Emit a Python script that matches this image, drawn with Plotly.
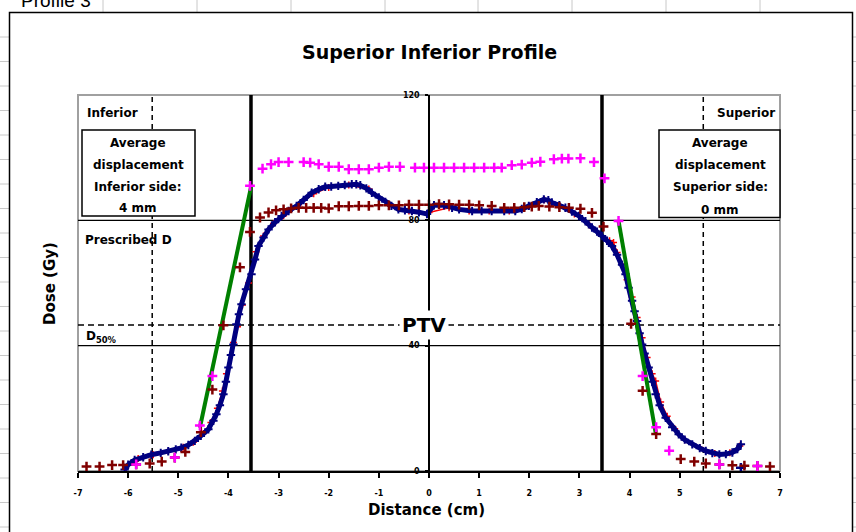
import plotly.graph_objects as go

# ---------------- data ----------------
title = "Superior Inferior Profile"
x_title = "Distance (cm)"
y_title = "Dose (Gy)"
x_ticks = list(range(-7, 8))
y_ticks = [0, 40, 80, 120]

# measured profile (navy)
blue_x = [-6.07, -6.0, -5.87, -5.7, -5.54, -5.35, -5.2, -5.05, -4.94, -4.8, -4.67, -4.55, -4.4,
          -4.3, -4.24, -4.17, -4.1, -4.05, -4.0, -3.95, -3.9, -3.84, -3.79, -3.74, -3.65, -3.54,
          -3.47, -3.4, -3.3, -3.2, -3.07, -2.94, -2.8, -2.64, -2.5, -2.34, -2.2, -2.07, -1.95,
          -1.81, -1.68, -1.54, -1.45, -1.37, -1.25, -1.14, -1.0, -0.87, -0.75, -0.61, -0.48,
          -0.34, -0.2, -0.04, 0.1, 0.3, 0.46, 0.6, 0.86, 1.05, 1.25, 1.5, 1.72, 1.85, 1.99,
          2.15, 2.29, 2.38, 2.45, 2.6, 2.72, 2.85, 2.99, 3.12, 3.25, 3.35, 3.45, 3.55, 3.65,
          3.75, 3.85, 3.92, 3.98, 4.05, 4.1, 4.15, 4.2, 4.25, 4.3, 4.38, 4.45, 4.52, 4.6, 4.72,
          4.85, 4.98, 5.1, 5.25, 5.4, 5.52, 5.65, 5.79, 5.92, 6.05, 6.15, 6.22]
blue_y = [0.5, 2.0, 3.5, 4.4, 5.2, 5.8, 6.3, 6.9, 7.4, 8.3, 9.6, 11.2, 13.3,
          16.0, 18.1, 21.0, 24.5, 28.5, 33.0, 37.0, 40.4, 46.8, 50.0, 53.2, 58.0, 62.8,
          67.5, 71.8, 74.5, 77.1, 79.4, 81.4, 83.0, 84.6, 86.5, 88.8, 89.9, 90.7, 90.8,
          91.0, 91.3, 91.5, 91.5, 91.2, 90.2, 88.8, 87.3, 85.9, 84.6, 83.5, 83.2,
          83.0, 82.6, 82.0, 84.8, 84.8, 84.0, 83.5, 83.0, 83.0, 83.0, 83.0, 83.0, 83.6, 84.6,
          85.8, 86.7, 86.4, 85.7, 84.8, 84.0, 82.8, 81.4, 79.7, 77.7, 76.4, 75.0, 73.5, 71.8,
          69.0, 65.8, 62.8, 58.5, 54.3, 51.0, 47.9, 44.0, 40.4, 37.5, 33.0, 28.5, 24.5, 21.0, 17.0,
          14.0, 11.7, 10.0, 8.5, 7.3, 6.4, 5.7, 5.3, 5.4, 5.9, 7.0, 8.5]
blue_tail_x = [6.22]
blue_tail_y = [1.0]

# calculated profile (red, mostly hidden under the measured one)
red_x = [-6.05, -5.8, -5.5, -5.2, -4.9, -4.7, -4.5, -4.35, -4.22, -4.12, -4.04, -3.96, -3.9,
         -3.82, -3.72, -3.6, -3.45, -3.3, -3.1, -2.9, -2.6, -2.3, -2.0, -1.6, -1.2, -0.8, -0.4,
         0.0, 0.4, 0.8, 1.2, 1.6, 2.0, 2.3, 2.6, 2.9, 3.2, 3.45, 3.6, 3.68, 3.75, 3.85, 3.95,
         4.05, 4.15, 4.25, 4.35, 4.45, 4.52, 4.62, 4.75, 4.9, 5.1, 5.4, 5.7, 6.0, 6.2]
red_y = [1.0, 4.0, 5.2, 6.3, 7.6, 9.2, 12.0, 15.5, 20.0, 25.5, 31.0, 37.0, 41.0,
         46.0, 53.0, 60.0, 70.0, 75.0, 79.0, 81.5, 85.0, 88.5, 90.5, 91.3, 90.0, 85.0, 83.0,
         82.5, 84.0, 83.0, 83.0, 83.0, 84.6, 86.6, 84.8, 82.0, 78.5, 75.0, 73.5, 72.9, 69.7, 66.0, 61.0,
         55.5, 49.0, 42.5, 36.2, 31.0, 28.7, 22.0, 17.5, 13.5, 10.0, 7.5, 5.6, 5.8, 8.0]

# dark red crosses
maroon_x = [-6.83, -6.57, -6.32, -6.1, -5.84, -5.57, -5.33, -5.07, -4.86, -4.55, -4.32, -4.1,
            -3.77, -3.57, -3.37, -3.2, -3.05, -2.9, -2.75, -2.6, -2.45, -2.3, -2.15, -2.0, -1.8,
            -1.6, -1.4, -1.2, -1.0, -0.8, -0.6, -0.4, -0.2, 0.0, 0.2, 0.4, 0.6, 0.8, 1.0, 1.25,
            1.5, 1.7, 1.9, 2.05, 2.19, 2.4, 2.6, 2.79, 3.02, 3.25, 3.48, 4.03, 4.26, 4.53,
            5.02, 5.29, 5.52, 5.79, 6.05, 6.29, 6.55, 6.8]
maroon_y = [1.4, 1.4, 1.9, 1.9, 2.1, 2.4, 3.0, 4.3, 6.1, 12.4, 26.0, 46.5,
            65.0, 76.3, 80.9, 82.5, 83.2, 83.5, 83.8, 84.0, 84.0, 84.0, 84.0, 83.8, 84.5,
            84.5, 84.6, 84.6, 84.8, 84.8, 84.8, 85.0, 85.0, 85.0, 85.2, 85.1, 85.0, 85.0, 84.8, 84.6,
            84.0, 84.0, 84.2, 84.4, 84.6, 84.4, 84.2, 84.0, 83.7, 82.4, 78.0, 47.0, 25.6, 11.8,
            3.8, 3.0, 2.4, 2.1, 1.8, 1.7, 1.6, 1.4]

# magenta crosses
magenta_x = [-5.84, -5.07, -4.57, -4.32, -3.57, -3.32, -3.15, -3.0, -2.8, -2.5, -2.37, -2.2,
             -2.0, -1.8, -1.6, -1.4, -1.2, -1.0, -0.8, -0.58, -0.28, -0.1, 0.1, 0.3, 0.5, 0.7,
             0.9, 1.1, 1.3, 1.45, 1.65, 1.85, 2.05, 2.22, 2.49, 2.65, 2.78, 3.02, 3.29, 3.5,
             3.78, 4.26, 4.53, 4.79, 5.79, 6.55]
magenta_y = [2.1, 4.3, 14.5, 30.3, 91.0, 96.5, 97.9, 98.6, 98.6, 98.6, 98.4, 97.9,
             97.1, 97.1, 96.3, 96.3, 96.3, 96.8, 97.1, 97.1, 96.8, 96.8, 96.8, 96.8, 96.8, 96.8,
             96.8, 96.8, 96.8, 96.8, 97.6, 97.8, 98.4, 98.7, 99.5, 99.7, 99.7, 99.8, 98.6, 93.4,
             79.8, 30.3, 14.0, 6.5, 2.1, 1.6]

# penumbra fit lines (green)
green_left_x = [-4.57, -3.55]
green_left_y = [13.8, 90.6]
green_right_x = [3.78, 4.52]
green_right_y = [79.8, 12.2]

# reference lines
solid_levels = [40, 80]          # D50% and prescribed dose
ptv_level = [46.6]
ptv_edges = [-3.55, 3.45]
dashed_edges = [-5.52, 5.47]

inf_box_lines = ["Average", "displacement", "Inferior side:", "4 mm"]
sup_box_lines = ["Average", "displacement", "Superior side:", "0 mm"]

# ---------------- layout helpers ----------------
W, H = 856, 532
L, R, T, B = 78, 76, 95, 61
PW, PH = W - L - R, H - T - B


def px(x):
    return (x - L) / PW


def py(y):
    return (H - B - y) / PH


FONT = "DejaVu Sans"
NAVY = "#000080"
MAROON = "#800000"
MAGENTA = "#FF00FF"

fig = go.Figure()

fig.add_trace(go.Scatter(x=red_x, y=red_y, mode="lines+markers",
                         line=dict(color="#FF0000", width=1.5),
                         marker=dict(symbol="cross-thin", size=5, line=dict(color="#FF0000", width=1.5)),
                         hoverinfo="skip"))
fig.add_trace(go.Scatter(x=blue_x, y=blue_y, mode="lines+markers",
                         line=dict(color=NAVY, width=5),
                         marker=dict(symbol="cross-thin", size=6, line=dict(color=NAVY, width=2)),
                         hoverinfo="skip"))
fig.add_trace(go.Scatter(x=blue_tail_x, y=blue_tail_y, mode="markers",
                         marker=dict(symbol="cross-thin", size=7, line=dict(color=NAVY, width=2.5)),
                         hoverinfo="skip"))
fig.add_trace(go.Scatter(x=green_left_x, y=green_left_y, mode="lines",
                         line=dict(color="#008000", width=4), hoverinfo="skip"))
fig.add_trace(go.Scatter(x=green_right_x, y=green_right_y, mode="lines",
                         line=dict(color="#008000", width=4), hoverinfo="skip"))
fig.add_trace(go.Scatter(x=maroon_x, y=maroon_y, mode="markers",
                         marker=dict(symbol="cross-thin", size=7, line=dict(color=MAROON, width=2.5)),
                         hoverinfo="skip"))
fig.add_trace(go.Scatter(x=magenta_x, y=magenta_y, mode="markers",
                         marker=dict(symbol="cross-thin", size=7, line=dict(color=MAGENTA, width=2.5)),
                         hoverinfo="skip"))

shapes = []
# spreadsheet background grid
for k in range(21):
    yy = 37 + 24.5 * k
    if yy > H:
        break
    shapes.append(dict(type="line", xref="paper", yref="paper", x0=px(0), x1=px(9),
                       y0=py(yy), y1=py(yy), line=dict(color="#c8c8c8", width=1)))
    shapes.append(dict(type="line", xref="paper", yref="paper", x0=px(852), x1=px(856),
                       y0=py(yy), y1=py(yy), line=dict(color="#c8c8c8", width=1)))
for xx in [103, 197, 291, 385, 478, 572, 666, 760]:
    shapes.append(dict(type="line", xref="paper", yref="paper", x0=px(xx), x1=px(xx),
                       y0=py(0), y1=py(12), line=dict(color="#c8c8c8", width=1)))
# chart area border
shapes.append(dict(type="rect", xref="paper", yref="paper", x0=px(9.5), x1=px(852.5),
                   y0=py(545), y1=py(12.5), line=dict(color="black", width=1.5)))
# plot area border
shapes.append(dict(type="rect", xref="paper", yref="paper", x0=0, x1=1, y0=0, y1=1,
                   line=dict(color="#a0a0a0", width=2), layer="below"))
# horizontal solid lines
for lv in solid_levels:
    shapes.append(dict(type="line", xref="paper", yref="y", x0=0, x1=1, y0=lv, y1=lv,
                       line=dict(color="black", width=1.2), layer="below"))
for lv in ptv_level:
    shapes.append(dict(type="line", xref="paper", yref="y", x0=0, x1=1, y0=lv, y1=lv,
                       line=dict(color="black", width=1.5, dash="6px,4px"), layer="below"))
for xe in ptv_edges:
    shapes.append(dict(type="line", xref="x", yref="paper", x0=xe, x1=xe, y0=0, y1=1,
                       line=dict(color="black", width=3.5), layer="below"))
for xe in dashed_edges:
    shapes.append(dict(type="line", xref="x", yref="paper", x0=xe, x1=xe, y0=0, y1=1,
                       line=dict(color="black", width=1.5, dash="5px,4px"), layer="below"))
# displacement boxes
shapes.append(dict(type="rect", xref="paper", yref="paper", x0=px(82), x1=px(195),
                   y0=py(216), y1=py(130), line=dict(color="black", width=1.5),
                   fillcolor="white"))
shapes.append(dict(type="rect", xref="paper", yref="paper", x0=px(659), x1=px(780),
                   y0=py(217.5), y1=py(130), line=dict(color="black", width=1.5),
                   fillcolor="white"))

ann = []
ann.append(dict(text="<b>" + title + "</b>", x=px(429), y=py(52), xref="paper", yref="paper",
                showarrow=False, font=dict(family=FONT, size=19, color="black"),
                xanchor="center", yanchor="middle"))
ann.append(dict(text="<b>" + x_title + "</b>", x=px(426), y=py(510), xref="paper", yref="paper",
                showarrow=False, font=dict(family=FONT, size=15, color="black"),
                xanchor="center", yanchor="middle"))
ann.append(dict(text="<b>" + y_title + "</b>", x=px(50), y=py(284), xref="paper", yref="paper",
                showarrow=False, textangle=-90, font=dict(family=FONT, size=15, color="black"),
                xanchor="center", yanchor="middle"))
ann.append(dict(text="Profile 3", x=px(19), y=py(13), xref="paper", yref="paper",
                showarrow=False, font=dict(family="Liberation Sans", size=19, color="black"),
                xanchor="left", yanchor="bottom"))
small = dict(family=FONT, size=12, color="black", weight="bold")
ann.append(dict(text="Inferior", x=px(85), y=py(113), xref="paper", yref="paper",
                showarrow=False, font=small, xanchor="left", yanchor="middle"))
ann.append(dict(text="Superior", x=px(777), y=py(113), xref="paper", yref="paper",
                showarrow=False, font=small, xanchor="right", yanchor="middle"))
for i, t in enumerate(inf_box_lines):
    ann.append(dict(text=t, x=px(138), y=py(143 + 21.8 * i), xref="paper", yref="paper",
                    showarrow=False, font=small, xanchor="center", yanchor="middle"))
for i, t in enumerate(sup_box_lines):
    ann.append(dict(text=t, x=px(720), y=py(143 + 22.2 * i), xref="paper", yref="paper",
                    showarrow=False, font=small, xanchor="center", yanchor="middle"))
ann.append(dict(text="Prescribed D", x=px(83), y=py(240), xref="paper", yref="paper",
                showarrow=False, font=small, xanchor="left", yanchor="middle"))
ann.append(dict(text="D<sub>50%</sub>", x=px(84), y=py(337), xref="paper", yref="paper",
                showarrow=False, font=dict(family=FONT, size=12, color="black", weight="bold"),
                xanchor="left", yanchor="middle"))
ann.append(dict(text="<b>PTV</b>", x=px(424), y=py(325), xref="paper", yref="paper",
                showarrow=False, font=dict(family=FONT, size=20, color="black"),
                xanchor="center", yanchor="middle", bgcolor="white", borderpad=2))

fig.update_layout(
    width=W, height=H, margin=dict(l=L, r=R, t=T, b=B),
    paper_bgcolor="white", plot_bgcolor="white", showlegend=False,
    shapes=shapes, annotations=ann,
    xaxis=dict(range=[-7, 7], tickvals=x_ticks, ticktext=[str(v) for v in x_ticks],
               ticks="outside", ticklen=5, tickwidth=1.5, tickcolor="black",
               showline=True, linecolor="black", linewidth=2, showgrid=False, zeroline=False,
               tickfont=dict(family=FONT, size=8, color="black", weight="bold"),
               ticklabelstandoff=8, fixedrange=True),
    yaxis=dict(range=[0, 120], tickvals=y_ticks, ticktext=[str(v) for v in y_ticks],
               anchor="free", position=0.5, ticks="outside", ticklen=3, tickwidth=1.5,
               tickcolor="black", showline=True, linecolor="black", linewidth=1.5,
               showgrid=False, zeroline=False,
               tickfont=dict(family=FONT, size=8, color="black", weight="bold"),
               ticklabelstandoff=4, fixedrange=True),
)

fig.write_html("out.html", config={"displayModeBar": False},
               post_script="document.body.style.margin='0';document.body.style.overflow='hidden';")
